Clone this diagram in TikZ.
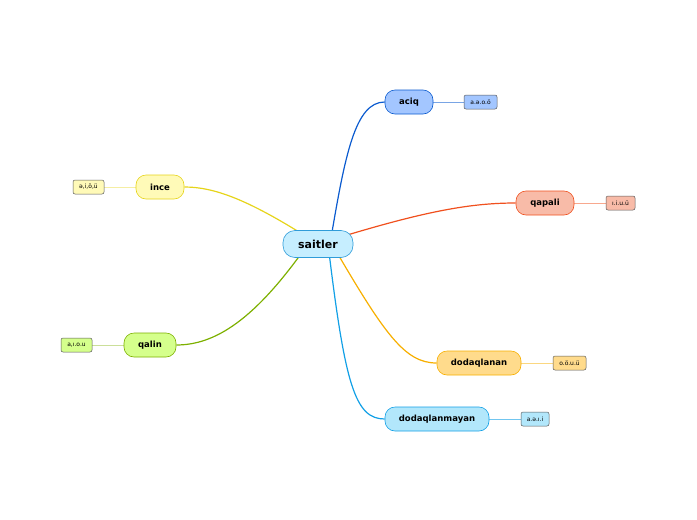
\documentclass[tikz,border=0pt]{standalone}
\usepackage{fontspec}
\setmainfont{DejaVu Sans}
\usetikzlibrary{backgrounds,positioning}
\definecolor{RootFill}{HTML}{C6EEFF}
\definecolor{RootLine}{HTML}{2F9CD9}
\definecolor{AciqFill}{HTML}{A3C6FF}
\definecolor{AciqLine}{HTML}{0B5BCF}
\definecolor{QapaliFill}{HTML}{F8BBA8}
\definecolor{QapaliLine}{HTML}{F0501E}
\definecolor{InceFill}{HTML}{FFFAB8}
\definecolor{InceLine}{HTML}{E6D41A}
\definecolor{QalinFill}{HTML}{D5FF8C}
\definecolor{QalinLine}{HTML}{7DB000}
\definecolor{DodFill}{HTML}{FFDB8C}
\definecolor{DodLine}{HTML}{F7AF00}
\definecolor{NonDodFill}{HTML}{B2E7FB}
\definecolor{NonDodLine}{HTML}{12A0E6}
\tikzset{
	topic/.style={draw=#1, rounded corners=10pt, minimum height=24pt, inner xsep=6pt,
		font=\fontsize{8.5}{10}\selectfont\bfseries, line width=0.6pt},
	leaf/.style={draw=black!65, fill=#1, rounded corners=2pt, minimum height=14pt, inner xsep=3pt,
		inner ysep=0pt, font=\fontsize{6}{7}\selectfont, line width=0.5pt},
	link/.style={line width=1.2pt, draw=#1},
	twig/.style={line width=0.6pt, draw=#1}
}
\begin{document}
\begin{tikzpicture}[x=1pt,y=-1pt]
	\useasboundingbox (0,0) rectangle (697,520);
	% central topic
	\node[topic=RootLine, fill=RootFill, minimum width=70pt, minimum height=27pt,
		rounded corners=12pt, font=\fontsize{11}{12}\selectfont\bfseries] (root) at (318,244) {saitler};
	% main branches
	\node[topic=AciqLine, fill=AciqFill, minimum width=48pt] (aciq) at (409,102) {aciq};
	\node[topic=QapaliLine, fill=QapaliFill, minimum width=58pt] (qapali) at (545,203) {qapali};
	\node[topic=InceLine, fill=InceFill, minimum width=48pt] (ince) at (160,187) {ince};
	\node[topic=QalinLine, fill=QalinFill, minimum width=52pt] (qalin) at (150,345) {qalin};
	\node[topic=DodLine, fill=DodFill, minimum width=84pt] (dod) at (479,363) {dodaqlanan};
	\node[topic=NonDodLine, fill=NonDodFill, minimum width=104pt] (nondod) at (437,419) {dodaqlanmayan};
	% vowel leaves
	\node[leaf=AciqFill, minimum width=33pt] (aciqL) at (480.5,102) {a.ə.o.ö};
	\node[leaf=QapaliFill, minimum width=29pt] (qapaliL) at (620.5,203) {ı.i.u.ü};
	\node[leaf=InceFill, minimum width=31pt] (inceL) at (88.5,187) {ə,i,ö,ü};
	\node[leaf=QalinFill, minimum width=31pt] (qalinL) at (76.5,345) {a,ı.o.u};
	\node[leaf=DodFill, minimum width=33pt] (dodL) at (569.5,363) {o.ö.u.ü};
	\node[leaf=NonDodFill, minimum width=28pt] (nondodL) at (535,419) {a.ə.ı.i};
	\begin{scope}[on background layer]
		\draw[link=AciqLine] ([xshift=12pt]root.center) .. controls (345,155) and (355,102) .. (aciq.west);
		\draw[link=QapaliLine] (root.center) .. controls (420,212) and (468,203) .. (qapali.west);
		\draw[link=InceLine] (root.center) .. controls (250,200) and (215,187) .. (ince.east);
		\draw[link=QalinLine] ([xshift=-10pt]root.center) .. controls (255,320) and (215,345) .. (qalin.east);
		\draw[link=DodLine] ([xshift=14pt]root.center) .. controls (385,335) and (405,363) .. (dod.west);
		\draw[link=NonDodLine] ([xshift=10pt]root.center) .. controls (345,385) and (355,419) .. (nondod.west);
		\draw[twig=AciqLine!55] (aciq.east) -- (aciqL.west);
		\draw[twig=QapaliLine!50] (qapali.east) -- (qapaliL.west);
		\draw[twig=InceLine!40] (ince.west) -- (inceL.east);
		\draw[twig=QalinLine!40] (qalin.west) -- (qalinL.east);
		\draw[twig=DodLine!50] (dod.east) -- (dodL.west);
		\draw[twig=NonDodLine!60] (nondod.east) -- (nondodL.west);
	\end{scope}
\end{tikzpicture}
\end{document}
